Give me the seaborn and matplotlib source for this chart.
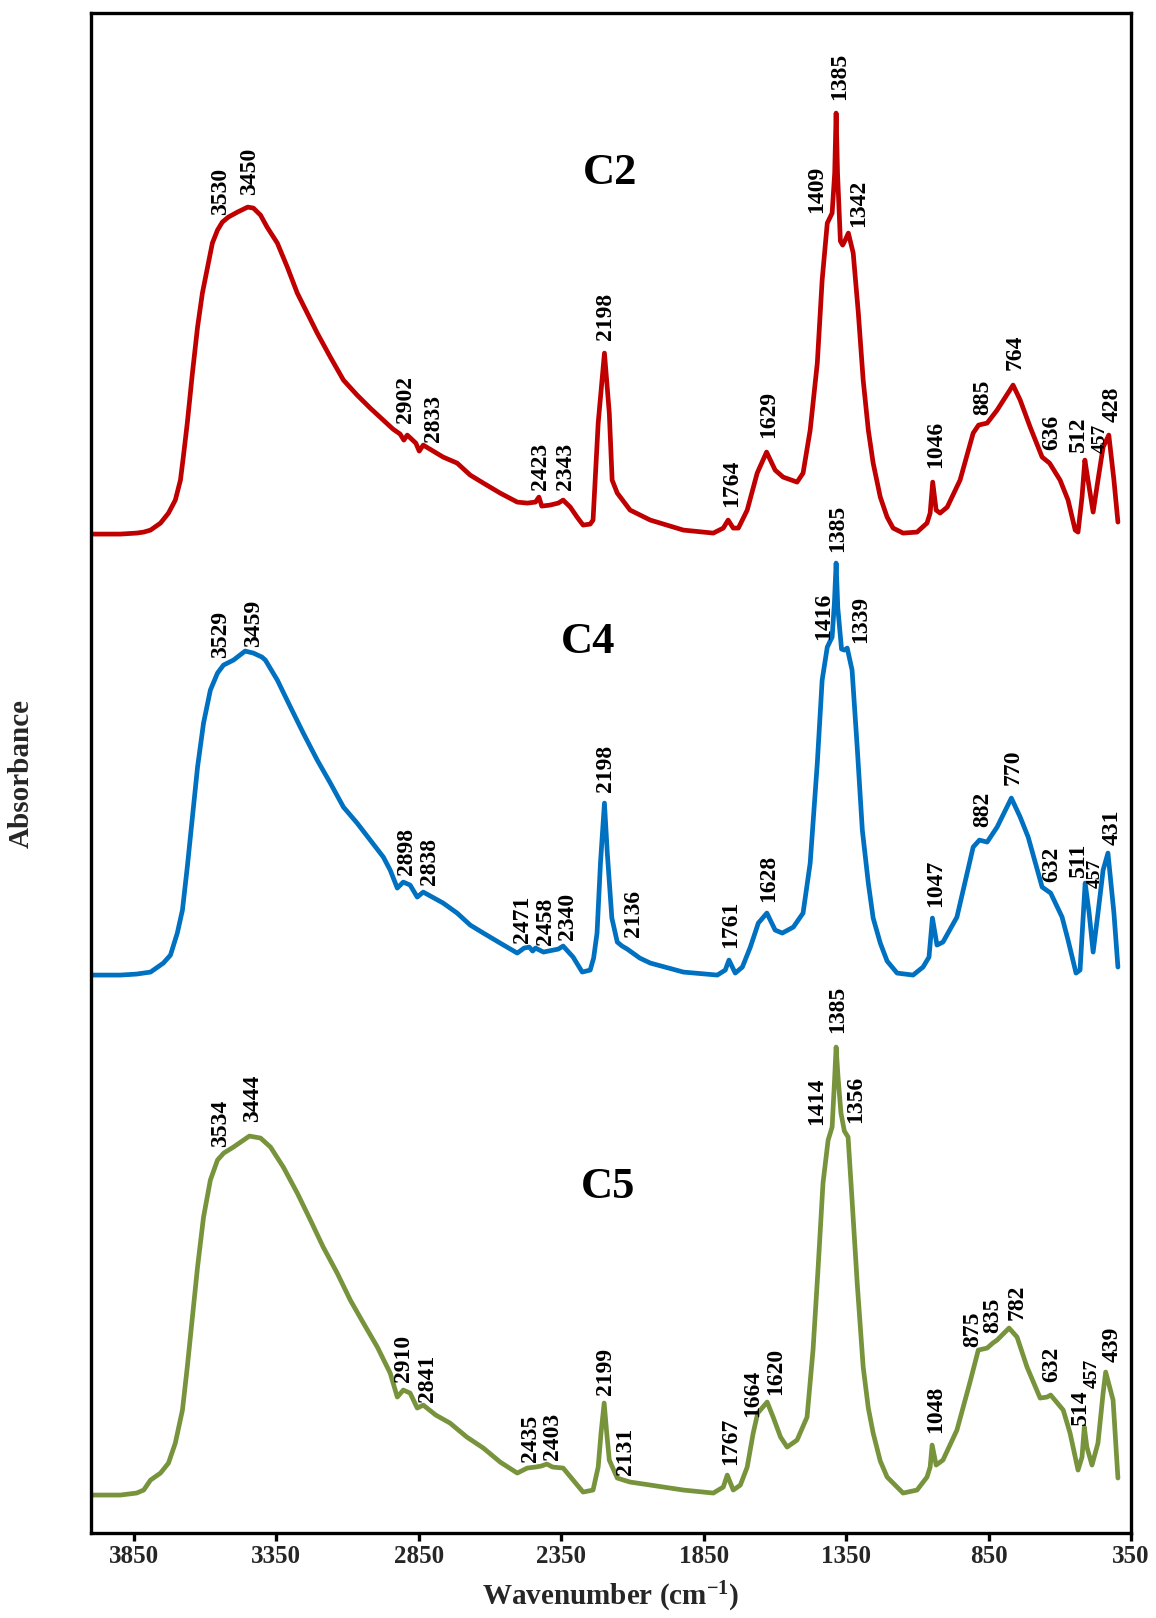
import matplotlib
matplotlib.use("Agg")
import matplotlib.pyplot as plt
import numpy as np
import pandas as pd
import seaborn as sns

# ---------------- FTIR spectra (stacked, absorbance in a.u. with vertical offsets) ----------------
c2_wn = [4000, 3897, 3840, 3815, 3791, 3756, 3728, 3704, 3686, 3676, 3662, 3644, 3626, 3609,
         3591, 3574, 3556, 3539, 3518, 3486, 3450, 3430, 3405, 3382, 3346, 3311, 3276, 3241,
         3206, 3160, 3114, 3066, 3020, 2974, 2940, 2915, 2902, 2890, 2860, 2848, 2834, 2764,
         2715, 2669, 2623, 2564, 2504, 2469, 2440, 2428, 2418, 2389, 2360, 2343, 2318, 2294,
         2273, 2248, 2238, 2220, 2198, 2181, 2171, 2153, 2108, 2037, 1921, 1816, 1781, 1764,
         1746, 1728, 1697, 1662, 1629, 1599, 1571, 1522, 1501, 1476, 1451, 1434, 1416, 1399,
         1390, 1385, 1380, 1370, 1362, 1353, 1342, 1325, 1307, 1290, 1272, 1255, 1230, 1206,
         1185, 1150, 1101, 1066, 1055, 1046, 1034, 1020, 995, 950, 904, 885, 855, 820, 764,
         739, 704, 662, 636, 599, 571, 546, 536, 522, 512, 501, 483, 466, 448, 428, 410, 396]
c2_abs = [0.999, 0.999, 1.000, 1.001, 1.003, 1.010, 1.020, 1.033, 1.053, 1.076, 1.110, 1.160,
          1.206, 1.240, 1.266, 1.290, 1.303, 1.311, 1.316, 1.321, 1.326, 1.325, 1.318, 1.306,
          1.290, 1.266, 1.240, 1.220, 1.200, 1.176, 1.153, 1.138, 1.125, 1.113, 1.104, 1.099,
          1.093, 1.098, 1.090, 1.082, 1.088, 1.076, 1.070, 1.058, 1.050, 1.040, 1.031, 1.030,
          1.031, 1.036, 1.027, 1.028, 1.030, 1.033, 1.026, 1.016, 1.008, 1.009, 1.013, 1.110,
          1.180, 1.120, 1.053, 1.040, 1.023, 1.013, 1.003, 1.000, 1.005, 1.013, 1.005, 1.005,
          1.023, 1.060, 1.081, 1.063, 1.056, 1.051, 1.060, 1.103, 1.170, 1.253, 1.310, 1.320,
          1.360, 1.420, 1.360, 1.292, 1.288, 1.293, 1.300, 1.280, 1.220, 1.153, 1.103, 1.070,
          1.036, 1.016, 1.005, 1.000, 1.001, 1.010, 1.020, 1.051, 1.023, 1.020, 1.026, 1.053,
          1.100, 1.108, 1.110, 1.123, 1.148, 1.133, 1.106, 1.076, 1.070, 1.053, 1.033, 1.003,
          1.001, 1.036, 1.073, 1.053, 1.021, 1.053, 1.086, 1.098, 1.053, 1.011]

c4_wn = [4000, 3897, 3840, 3791, 3746, 3721, 3697, 3679, 3662, 3644, 3626, 3605, 3581, 3556,
         3535, 3500, 3459, 3430, 3400, 3388, 3346, 3300, 3255, 3206, 3160, 3114, 3066, 3020,
         2974, 2950, 2925, 2904, 2880, 2855, 2834, 2764, 2715, 2669, 2623, 2564, 2504, 2480,
         2462, 2450, 2440, 2412, 2360, 2343, 2308, 2276, 2248, 2236, 2224, 2212, 2198, 2188,
         2172, 2153, 2136, 2118, 2074, 2037, 1921, 1802, 1774, 1761, 1739, 1714, 1686, 1658,
         1628, 1599, 1574, 1535, 1501, 1476, 1451, 1434, 1416, 1399, 1391, 1385, 1379, 1366,
         1356, 1346, 1329, 1311, 1293, 1272, 1255, 1230, 1206, 1171, 1115, 1080, 1059, 1047,
         1031, 1010, 961, 904, 882, 855, 820, 770, 739, 711, 662, 632, 592, 571, 543, 529, 511,
         497, 483, 466, 448, 431, 410, 396]
c4_abs = [0.558, 0.558, 0.559, 0.561, 0.570, 0.578, 0.600, 0.623, 0.666, 0.716, 0.766, 0.810,
          0.843, 0.860, 0.868, 0.873, 0.882, 0.880, 0.876, 0.873, 0.853, 0.826, 0.800, 0.773,
          0.750, 0.726, 0.710, 0.693, 0.676, 0.663, 0.645, 0.651, 0.648, 0.636, 0.641, 0.630,
          0.620, 0.608, 0.600, 0.590, 0.580, 0.585, 0.586, 0.582, 0.585, 0.581, 0.584, 0.587,
          0.576, 0.561, 0.563, 0.575, 0.600, 0.670, 0.730, 0.680, 0.615, 0.591, 0.587, 0.584,
          0.575, 0.570, 0.561, 0.558, 0.563, 0.573, 0.560, 0.566, 0.586, 0.610, 0.620, 0.603,
          0.600, 0.606, 0.620, 0.670, 0.770, 0.853, 0.886, 0.896, 0.930, 0.970, 0.925, 0.884,
          0.883, 0.885, 0.863, 0.786, 0.703, 0.650, 0.615, 0.590, 0.572, 0.560, 0.558, 0.566,
          0.576, 0.615, 0.588, 0.591, 0.616, 0.686, 0.693, 0.691, 0.706, 0.735, 0.716, 0.696,
          0.646, 0.640, 0.616, 0.593, 0.560, 0.563, 0.650, 0.620, 0.581, 0.620, 0.663, 0.680,
          0.620, 0.566]

c5_wn = [4000, 3897, 3840, 3815, 3791, 3756, 3728, 3704, 3679, 3662, 3644, 3626, 3605, 3581,
         3556, 3534, 3500, 3444, 3405, 3370, 3325, 3276, 3230, 3185, 3136, 3090, 3044, 2995,
         2950, 2925, 2904, 2880, 2855, 2834, 2790, 2740, 2681, 2623, 2564, 2504, 2469, 2440,
         2420, 2400, 2380, 2343, 2308, 2273, 2238, 2220, 2210, 2199, 2190, 2181, 2153, 2131,
         2108, 2037, 1921, 1816, 1781, 1767, 1746, 1721, 1697, 1676, 1660, 1648, 1627, 1606,
         1580, 1557, 1522, 1487, 1466, 1448, 1431, 1413, 1399, 1391, 1385, 1378, 1368, 1356,
         1343, 1329, 1311, 1290, 1272, 1255, 1230, 1206, 1150, 1101, 1066, 1055, 1048, 1034,
         1010, 961, 916, 886, 855, 835, 820, 778, 750, 715, 669, 645, 632, 588, 564, 536, 522,
         514, 505, 487, 466, 448, 439, 413, 396]
c5_abs = [0.038, 0.038, 0.040, 0.043, 0.053, 0.060, 0.070, 0.090, 0.123, 0.166, 0.216, 0.266,
          0.316, 0.353, 0.373, 0.380, 0.386, 0.397, 0.395, 0.386, 0.366, 0.340, 0.313, 0.286,
          0.260, 0.233, 0.210, 0.186, 0.160, 0.136, 0.143, 0.140, 0.125, 0.128, 0.118, 0.110,
          0.096, 0.085, 0.071, 0.060, 0.065, 0.066, 0.067, 0.069, 0.066, 0.065, 0.053, 0.041,
          0.043, 0.066, 0.100, 0.130, 0.100, 0.073, 0.055, 0.053, 0.051, 0.048, 0.043, 0.040,
          0.046, 0.058, 0.043, 0.048, 0.066, 0.100, 0.120, 0.124, 0.131, 0.116, 0.096, 0.086,
          0.093, 0.116, 0.183, 0.266, 0.350, 0.393, 0.406, 0.450, 0.486, 0.455, 0.420, 0.402,
          0.396, 0.333, 0.250, 0.166, 0.125, 0.100, 0.072, 0.056, 0.040, 0.043, 0.056, 0.066,
          0.088, 0.068, 0.073, 0.103, 0.150, 0.183, 0.185, 0.190, 0.193, 0.205, 0.196, 0.166,
          0.135, 0.136, 0.138, 0.123, 0.100, 0.063, 0.076, 0.106, 0.086, 0.068, 0.090, 0.140,
          0.161, 0.133, 0.055]

# ---------------- band assignments: wavenumber, label nudge (cm-1), label base height ----------------
c2_bands = [3530, 3450, 2902, 2833, 2423, 2343, 2198, 1764, 1629, 1409, 1385, 1342, 1046,
            885, 764, 636, 512, 457, 428]
c2_nudge = [16, -6, -5, -35, 0, -7, -3, -14, -6, 43, -14, -35, -9, -13, -7, -9, 24, 1, -11]
c2_lab_y = [1.318, 1.338, 1.110, 1.091, 1.043, 1.043, 1.193, 1.026, 1.095, 1.320, 1.433,
            1.306, 1.065, 1.118, 1.163, 1.083, 1.081, 1.080, 1.111]

c4_bands = [3529, 3459, 2898, 2838, 2471, 2458, 2340, 2198, 2136, 1761, 1628, 1416, 1385,
            1339, 1047, 882, 770, 632, 511, 457, 431]
c4_nudge = [17, -29, -7, -26, 15, -52, -11, -3, -40, -5, -5, 14, -7, -39, -10, -10, -6, -5,
            25, 19, -14]
c4_lab_y = [0.875, 0.886, 0.658, 0.648, 0.590, 0.588, 0.593, 0.741, 0.596, 0.585, 0.631,
            0.893, 0.981, 0.890, 0.626, 0.706, 0.748, 0.651, 0.656, 0.645, 0.688]

c5_bands = [3534, 3444, 2910, 2841, 2435, 2403, 2199, 2131, 1767, 1664, 1620, 1414, 1385,
            1356, 1048, 875, 835, 782, 632, 514, 457, 439]
c5_nudge = [12, -10, -6, -21, 23, -22, -4, -6, -11, 15, -21, 38, -4, -38, -11, 32, 2, -32,
            -5, 15, 30, -22]
c5_lab_y = [0.386, 0.411, 0.151, 0.131, 0.071, 0.073, 0.138, 0.058, 0.068, 0.116, 0.138,
            0.408, 0.500, 0.410, 0.100, 0.186, 0.200, 0.213, 0.151, 0.108, 0.145, 0.171]

samples = ["C2", "C4", "C5"]
colors = ["#C00000", "#0070C0", "#77933C"]
sample_tag_pos = [(2178, 1.360), (2254, 0.891), (2185, 0.346)]

x_ticks = [3850, 3350, 2850, 2350, 1850, 1350, 850, 350]

# ---------------- style ----------------
sns.set_theme(style="white")
plt.rcParams["font.family"] = ["Liberation Serif", "DejaVu Serif"]
plt.rcParams["font.weight"] = "bold"
plt.rcParams["mathtext.fontset"] = "custom"
plt.rcParams["mathtext.rm"] = "Liberation Serif:bold"
plt.rcParams["mathtext.bf"] = "Liberation Serif:bold"
plt.rcParams["mathtext.it"] = "Liberation Serif:bold"

frames = []
for name, wn, ab in [("C2", c2_wn, c2_abs), ("C4", c4_wn, c4_abs), ("C5", c5_wn, c5_abs)]:
    frames.append(pd.DataFrame({"wavenumber": wn, "absorbance": ab, "sample": name}))
df = pd.concat(frames, ignore_index=True)

fig = plt.figure(figsize=(11.56, 16.18), dpi=100)
ax = fig.add_axes([0.0787, 0.0525, 0.8997, 0.9394])

sns.lineplot(data=df, x="wavenumber", y="absorbance", hue="sample", hue_order=samples,
             palette=colors, estimator=None, sort=False, linewidth=3.4, legend=False, ax=ax,
             solid_joinstyle="round", solid_capstyle="round")

ax.set_xlim(4000, 350)
ax.set_ylim(0, 1.52)
ax.set_xticks(x_ticks)
ax.set_xticklabels([str(t) for t in x_ticks], fontsize=18, fontweight="bold")
ax.set_yticks([])

ax.tick_params(axis="x", direction="out", length=5.5, width=2.4, color="black", pad=3,
               bottom=True, top=False)
for side in ["left", "right", "top", "bottom"]:
    ax.spines[side].set_visible(True)
    ax.spines[side].set_color("black")
    ax.spines[side].set_linewidth(2.4)

ax.set_xlabel("Wavenumber (cm$^{-1}$)", fontsize=21, fontweight="bold")
ax.xaxis.set_label_coords(0.5, -0.031)
ax.set_ylabel("Absorbance", fontsize=21, fontweight="bold")
ax.yaxis.set_label_coords(-0.054, 0.5)

# band labels
band_sets = [(c2_bands, c2_nudge, c2_lab_y), (c4_bands, c4_nudge, c4_lab_y),
             (c5_bands, c5_nudge, c5_lab_y)]
for bands, nudge, ys in band_sets:
    for b, dx, y in zip(bands, nudge, ys):
        size = 14 if b == 457 else 17
        ax.text(b + dx, y, str(b), rotation=90, ha="center", va="bottom",
                fontsize=size, fontweight="bold", color="black")

# sample tags
for name, (tx, ty) in zip(samples, sample_tag_pos):
    ax.text(tx, ty, name, ha="center", va="center", fontsize=32, fontweight="bold",
            color="black")

fig.savefig("out.png", dpi=100)
